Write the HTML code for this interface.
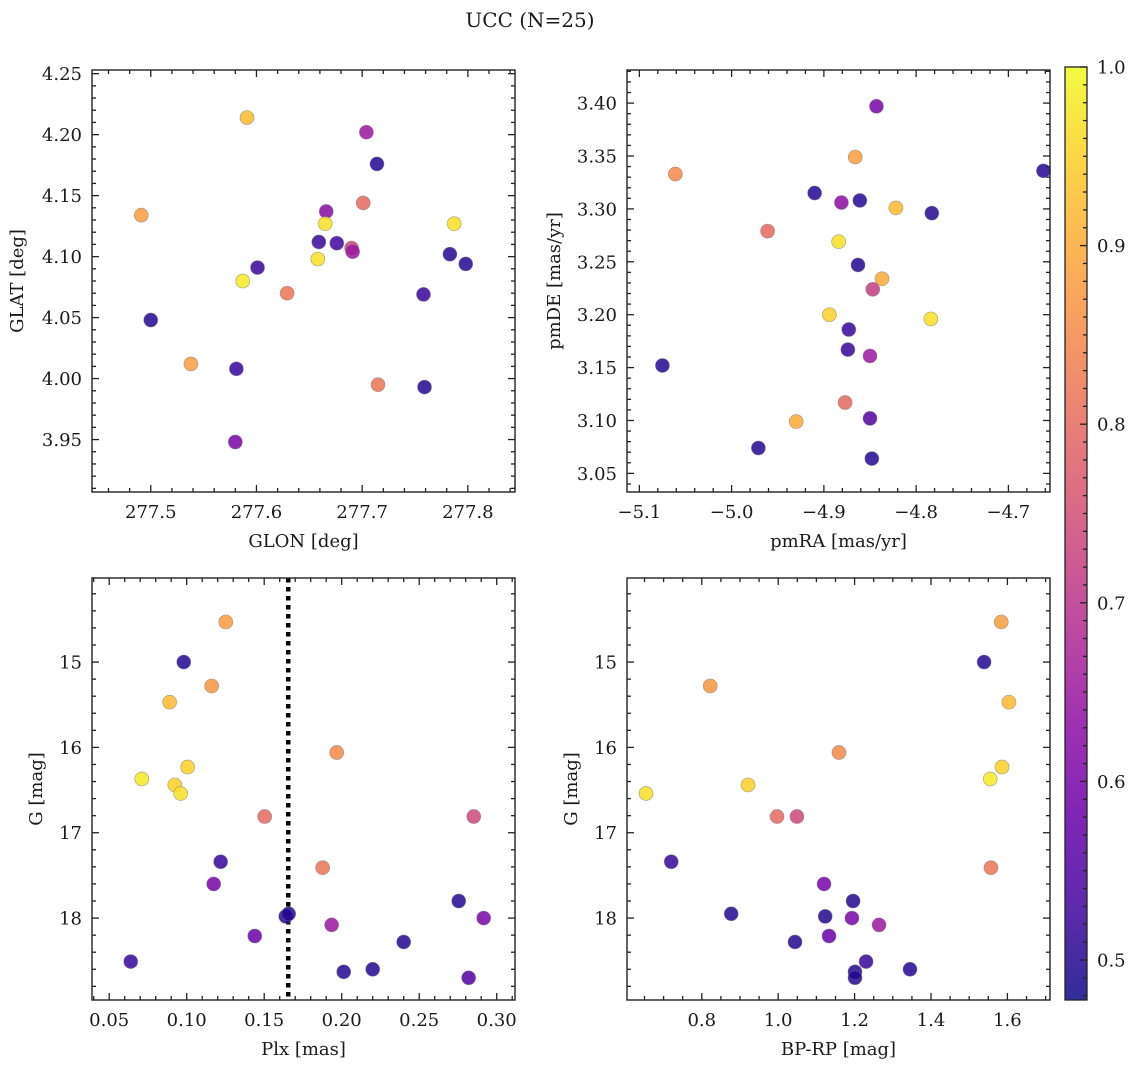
<!DOCTYPE html>
<html><head><meta charset="utf-8">
<style>
html,body{margin:0;padding:0;background:#fff;}
svg text{font-family:"DejaVu Serif","Liberation Serif",serif;fill:#1a1a1a;}
</style></head>
<body>
<svg id="fig" width="1136" height="1067" viewBox="0 0 1136 1067" xmlns="http://www.w3.org/2000/svg">
<text x="530" y="27" font-size="20" text-anchor="middle">UCC (N=25)</text>
</svg>
<script>
// Panel 1: GLON vs GLAT
const glon = [277.591,277.704,277.714,277.491,277.701,277.666,277.787,277.665,277.659,277.676,277.690,277.691,277.658,277.783,277.798,277.601,277.587,277.629,277.758,277.500,277.538,277.581,277.715,277.759,277.580];
const glat = [4.214,4.202,4.176,4.134,4.144,4.137,4.127,4.127,4.112,4.111,4.107,4.104,4.098,4.102,4.094,4.091,4.080,4.070,4.069,4.048,4.012,4.008,3.995,3.993,3.948];
const probA = [0.92,0.65,0.5,0.88,0.8,0.62,0.97,0.97,0.52,0.53,0.73,0.65,0.97,0.5,0.5,0.52,0.98,0.82,0.52,0.5,0.88,0.52,0.82,0.5,0.6];
// Panel 2: pmRA vs pmDE
const pmra = [-4.843,-4.866,-5.061,-4.662,-4.910,-4.861,-4.881,-4.822,-4.783,-4.961,-4.884,-4.863,-4.837,-4.847,-4.894,-4.784,-4.873,-4.874,-4.850,-5.075,-4.877,-4.850,-4.930,-4.971,-4.848];
const pmde = [3.397,3.349,3.333,3.336,3.315,3.308,3.306,3.301,3.296,3.279,3.269,3.247,3.234,3.224,3.200,3.196,3.186,3.167,3.161,3.152,3.117,3.102,3.099,3.074,3.064];
const probB = [0.6,0.88,0.85,0.5,0.5,0.5,0.63,0.92,0.5,0.8,0.97,0.5,0.9,0.72,0.95,0.97,0.52,0.52,0.65,0.5,0.8,0.55,0.9,0.5,0.5];
// Panel 3: Plx vs G
const plx = [0.1252,0.0981,0.1161,0.0890,0.1968,0.1006,0.0710,0.0923,0.0961,0.1503,0.2852,0.1219,0.1877,0.1174,0.2755,0.1639,0.1658,0.2916,0.1935,0.1439,0.2400,0.0639,0.2013,0.2200,0.2819];
const gC = [14.53,15.00,15.28,15.47,16.06,16.23,16.37,16.44,16.54,16.81,16.81,17.34,17.41,17.60,17.80,17.98,17.95,18.00,18.08,18.21,18.28,18.51,18.63,18.60,18.70];
const probC = [0.88,0.5,0.87,0.92,0.85,0.95,0.98,0.95,0.97,0.8,0.74,0.52,0.82,0.6,0.5,0.5,0.5,0.6,0.65,0.58,0.5,0.52,0.5,0.5,0.55];
const plxLine = [0.1655];
// Panel 4: BP-RP vs G
const bprp = [1.584,1.539,0.822,1.604,1.159,1.586,1.555,0.921,0.654,0.997,1.049,0.720,1.557,1.120,1.196,1.123,0.877,1.193,1.264,1.133,1.044,1.230,1.201,1.201,1.345];
const gD = [14.53,15.00,15.28,15.47,16.06,16.23,16.37,16.44,16.54,16.81,16.81,17.34,17.41,17.60,17.80,17.98,17.95,18.00,18.08,18.21,18.28,18.51,18.63,18.70,18.60];
const probD = [0.88,0.5,0.87,0.92,0.85,0.95,0.98,0.95,0.97,0.8,0.74,0.52,0.82,0.6,0.5,0.5,0.5,0.6,0.65,0.58,0.5,0.52,0.5,0.5,0.5];
// ticks
const ticksGlon = ["277.5","277.6","277.7","277.8"];
const ticksGlat = ["3.95","4.00","4.05","4.10","4.15","4.20","4.25"];
const ticksPmra = ["−5.1","−5.0","−4.9","−4.8","−4.7"];
const ticksPmde = ["3.05","3.10","3.15","3.20","3.25","3.30","3.35","3.40"];
const ticksPlx = ["0.05","0.10","0.15","0.20","0.25","0.30"];
const ticksG = ["15","16","17","18"];
const ticksBprp = ["0.8","1.0","1.2","1.4","1.6"];
const ticksCbar = ["0.5","0.6","0.7","0.8","0.9","1.0"];
const cmin = 0.4776, cmax = 1.0;

const NS = "http://www.w3.org/2000/svg";
const svg = document.getElementById('fig');
function mk(tag, attrs, parent){const e=document.createElementNS(NS,tag);for(const k in attrs)e.setAttribute(k,attrs[k]);(parent||svg).appendChild(e);return e;}

const plasma=[[13,8,135],[65,4,157],[106,0,168],[143,13,164],[177,42,144],[204,71,120],[225,100,98],[242,132,75],[252,166,54],[252,206,37],[240,249,33]];
function cmap(v){let t=(v-cmin)/(cmax-cmin);t=Math.max(0,Math.min(1,t));const f=t*10,i=Math.min(9,Math.floor(f)),r=f-i;const a=plasma[i],b=plasma[i+1];return `rgb(${Math.round(a[0]+(b[0]-a[0])*r)},${Math.round(a[1]+(b[1]-a[1])*r)},${Math.round(a[2]+(b[2]-a[2])*r)})`;}

function panel(o){
  const g=mk('g',{});
  
  
  const sx=v=>o.x0+(v-o.xmin)/(o.xmax-o.xmin)*(o.x1-o.x0);
  const sy=o.yinv? (v=>o.y0+(v-o.ymin)/(o.ymax-o.ymin)*(o.y1-o.y0)) : (v=>o.y1-(v-o.ymin)/(o.ymax-o.ymin)*(o.y1-o.y0));
  const tk=mk('g',{stroke:'#222','stroke-width':1.3},g);
  
  
  const eps=1e-9;
  for(let v=Math.ceil(o.xmin/o.xminor-eps)*o.xminor; v<=o.xmax+eps; v+=o.xminor){
    const x=sx(v); const major=Math.abs(v/o.xmajor-Math.round(v/o.xmajor))<1e-4; const L=major?7:4;
    mk('line',{x1:x,x2:x,y1:o.y1,y2:o.y1-L},tk); mk('line',{x1:x,x2:x,y1:o.y0,y2:o.y0+L},tk);
  }
  for(let v=Math.ceil(o.ymin/o.yminor-eps)*o.yminor; v<=o.ymax+eps; v+=o.yminor){
    const y=sy(v); const major=Math.abs(v/o.ymajor-Math.round(v/o.ymajor))<1e-4; const L=major?7:4;
    mk('line',{x1:o.x0,x2:o.x0+L,y1:y,y2:y},tk); mk('line',{x1:o.x1,x2:o.x1-L,y1:y,y2:y},tk);
  }
  o.xt.forEach(s=>{const v=parseFloat(s.replace('−','-'));const t=mk('text',{x:sx(v),y:o.y1+26,'font-size':18,'text-anchor':'middle'},g);t.textContent=s;
    
    });
  o.yt.forEach(s=>{const v=parseFloat(s);const t=mk('text',{x:o.x0-10,y:sy(v)+6.5,'font-size':18,'text-anchor':'end'},g);t.textContent=s;
    
    });
  const xl=mk('text',{x:(o.x0+o.x1)/2,y:o.y1+55,'font-size':18,'text-anchor':'middle'},g);xl.textContent=o.xlabel;
  
  
  const yl=mk('text',{x:0,y:0,'font-size':18,'text-anchor':'middle',transform:`translate(${o.ylx},${(o.y0+o.y1)/2}) rotate(-90)`},g);yl.textContent=o.ylabel;
  
  
  if(o.vline){o.vline.forEach(v=>{const l=mk('line',{x1:sx(v),x2:sx(v),y1:o.y0,y2:o.y1,stroke:'#000','stroke-width':4.5,'stroke-dasharray':'4.5 4.5'},g);
    
    });}
  o.xs.forEach((xv,i)=>{const c=mk('circle',{cx:sx(xv),cy:sy(o.ys[i]),r:7,fill:cmap(o.c[i]),'fill-opacity':0.85,stroke:'#777','stroke-opacity':0.6,'stroke-width':0.7},g);
    
    });
  const fr=mk('rect',{x:o.x0,y:o.y0,width:o.x1-o.x0,height:o.y1-o.y0,fill:'none',stroke:'#222','stroke-width':1.4},g);
  
  
}

panel({name:'glon-glat-panel',x0:92,x1:515,y0:70,y1:492,xmin:277.4444,xmax:277.8446,ymin:3.907,ymax:4.253,yinv:false,
  xmajor:0.1,xminor:0.02,ymajor:0.05,yminor:0.01,xt:ticksGlon,yt:ticksGlat,xlabel:'GLON [deg]',ylabel:'GLAT [deg]',ylx:23,xs:glon,ys:glat,c:probA});
panel({name:'pm-panel',x0:627,x1:1050,y0:70,y1:492,xmin:-5.1134,xmax:-4.6549,ymin:3.0324,ymax:3.4313,yinv:false,
  xmajor:0.1,xminor:0.02,ymajor:0.05,yminor:0.01,xt:ticksPmra,yt:ticksPmde,xlabel:'pmRA [mas/yr]',ylabel:'pmDE [mas/yr]',ylx:560,xs:pmra,ys:pmde,c:probB});
panel({name:'plx-g-panel',x0:92,x1:515,y0:578,y1:1000,xmin:0.0389,xmax:0.3118,ymin:14.015,ymax:18.96,yinv:true,
  xmajor:0.05,xminor:0.01,ymajor:1,yminor:0.2,xt:ticksPlx,yt:ticksG,xlabel:'Plx [mas]',ylabel:'G [mag]',ylx:42,xs:plx,ys:gC,c:probC,vline:plxLine});
panel({name:'cmd-panel',x0:627,x1:1050,y0:578,y1:1000,xmin:0.6042,xmax:1.7115,ymin:14.015,ymax:18.96,yinv:true,
  xmajor:0.2,xminor:0.05,ymajor:1,yminor:0.2,xt:ticksBprp,yt:ticksG,xlabel:'BP-RP [mag]',ylabel:'G [mag]',ylx:577,xs:bprp,ys:gD,c:probD});

(function(){
  const x0=1065,x1=1087,y0=67,y1=1000;
  const g=mk('g',{});
  
  
  const defs=mk('defs',{},g);
  const lg=mk('linearGradient',{id:'cbg',x1:0,y1:1,x2:0,y2:0},defs);
  for(let i=0;i<=20;i++){const v=cmin+(cmax-cmin)*i/20;mk('stop',{offset:(i/20),'stop-color':cmap(v),'stop-opacity':0.85},lg);}
  mk('rect',{x:x0,y:y0,width:x1-x0,height:y1-y0,fill:'url(#cbg)',stroke:'#222','stroke-width':1.3},g);
  const sy=v=>y1-(v-cmin)/(cmax-cmin)*(y1-y0);
  for(let k=48;k<=100;k++){const v=k/100;const major=k%10===0;const y=sy(v);
    mk('line',{x1:x1,x2:x1-(major?7:4),y1:y,y2:y,stroke:'#222','stroke-width':1.3},g);}
  ticksCbar.forEach(s=>{const t=mk('text',{x:x1+10,y:sy(parseFloat(s))+6.5,'font-size':18},g);t.textContent=s;
    
    });
})();
</script>
</body></html>
